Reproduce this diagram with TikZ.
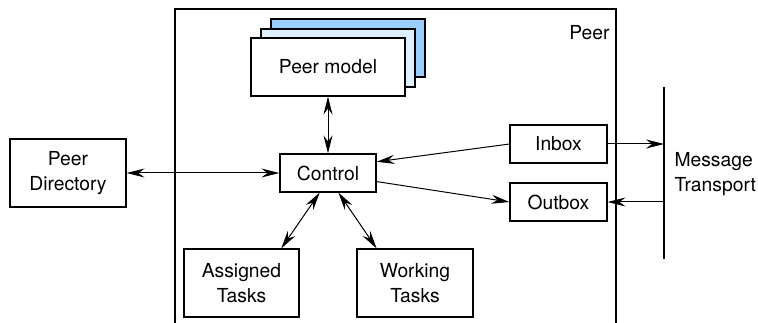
\documentclass[tikz,border=0pt]{standalone}
\usepackage{fontspec}
\setmainfont{TeX Gyre Heros}
\usetikzlibrary{arrows.meta}
\definecolor{cardblue}{RGB}{153,206,255}
\definecolor{cardpale}{RGB}{222,240,255}
\begin{document}
\begin{tikzpicture}[x=1pt,y=-1pt,
  font=\fontsize{19.3}{25}\selectfont,
  box/.style={draw, line width=1.1pt, align=center, inner sep=0pt, fill=white},
  card/.style={draw, line width=1.1pt},
  link/.style={line width=1pt, -{Stealth[length=18pt,width=9pt,inset=6pt]}},
  dlink/.style={line width=1pt, {Stealth[length=18pt,width=9pt,inset=6pt]}-{Stealth[length=18pt,width=9pt,inset=6pt]}}]
\useasboundingbox (0,0) rectangle (758,323);
% peer frame, open at the bottom
\draw[line width=1.1pt] (175,323) -- (175,9) -- (616,9) -- (616,323);
\node[anchor=east] (peer) at (613,33) {Peer};
% stacked peer models
\draw[card, fill=cardblue] (271,19) rectangle (425,77);
\draw[card, fill=cardpale] (261,29) rectangle (415,87);
\node[box, minimum width=154pt, minimum height=58pt] (pm) at (328,67) {Peer model};
\node[box, minimum width=96pt, minimum height=38pt] (ctl) at (328,173) {Control};
\node[box, minimum width=116pt, minimum height=68pt] (pd) at (68,173) {Peer\\Directory};
\node[box, minimum width=97pt, minimum height=38pt] (inbox) at (558.5,144) {Inbox};
\node[box, minimum width=97pt, minimum height=38pt] (outbox) at (558.5,202) {Outbox};
\node[box, minimum width=115pt, minimum height=68pt] (at) at (241.5,283) {Assigned\\Tasks};
\node[box, minimum width=116pt, minimum height=68pt] (wt) at (415,283) {Working\\Tasks};
% message transport bus
\coordinate (mttop) at (664,87);
\coordinate (mtbot) at (664,259);
\coordinate (mtin) at (664,144);
\coordinate (mtout) at (664,202);
\draw[line width=1.1pt] (mttop) -- (mtbot);
\node[anchor=west, align=left] (mt) at (671,174) {Message\\Transport};
% connectors
\draw[dlink] (pd) -- (ctl);
\draw[dlink] (pm) -- (ctl);
\draw[link] (inbox.west) -- (ctl.13);
\draw[link] (ctl.-10) -- (outbox.west);
\draw[link] (inbox.east) -- (mtin);
\draw[link] (mtout) -- (outbox.east);
\draw[dlink] (ctl.247) -- (at.41);
\draw[dlink] (ctl.-62) -- (wt.138);
\end{tikzpicture}
\end{document}
